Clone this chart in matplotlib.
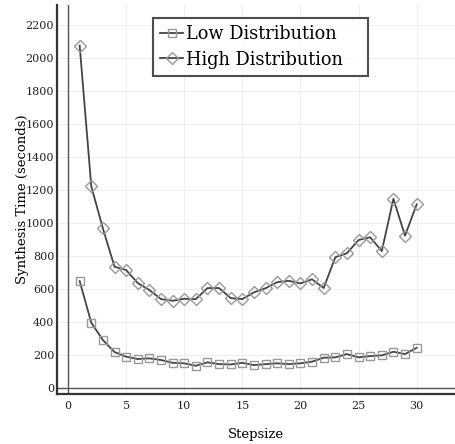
import matplotlib
matplotlib.use('Agg')
import matplotlib.pyplot as plt

stepsize = list(range(1, 31))
low_dist = [648, 396, 291, 218, 190, 176, 180, 170, 153, 150,
            135, 156, 145, 143, 153, 139, 145, 150, 145, 150,
            160, 184, 186, 206, 186, 194, 198, 220, 206, 244]
high_dist = [2075, 1222, 967, 735, 715, 636, 594, 539, 529, 541,
             539, 606, 606, 545, 539, 580, 605, 642, 650, 634,
             659, 606, 793, 817, 897, 914, 830, 1147, 923, 1113]

plt.rcParams['font.family'] = 'DejaVu Serif'

fig = plt.figure(figsize=(4.55, 4.44), dpi=100)
ax = fig.add_axes([0.1253, 0.1126, 0.8747, 0.8761])

ax.axhline(0, color='#555555', linewidth=1, zorder=1)
ax.axvline(0, color='#555555', linewidth=1, zorder=1)

ax.plot(stepsize, low_dist, color='#444444', linewidth=1.3,
        marker='s', markersize=6, markerfacecolor='none',
        markeredgecolor='#999999', markeredgewidth=1,
        label='Low Distribution', zorder=3)
ax.plot(stepsize, high_dist, color='#444444', linewidth=1.3,
        marker='D', markersize=6, markerfacecolor='none',
        markeredgecolor='#999999', markeredgewidth=1,
        label='High Distribution', zorder=3)

ax.set_xlim(-0.95, 33.3)
ax.set_ylim(-36, 2321)
ax.set_xticks(range(0, 31, 5))
ax.set_yticks(range(0, 2201, 200))
ax.tick_params(axis='y', length=0, labelsize=8, colors='#222222', pad=2)
ax.tick_params(axis='x', length=0, labelsize=8, colors='#222222', pad=5)
ax.grid(True, color='#eeeeee', linewidth=0.8)
ax.set_axisbelow(True)

for side in ['top', 'right']:
    ax.spines[side].set_visible(False)
for side in ['left', 'bottom']:
    ax.spines[side].set_linewidth(1.6)
    ax.spines[side].set_color('#333333')

ax.set_xlabel('Stepsize', fontsize=9.5, labelpad=12)
ax.set_ylabel('Synthesis Time (seconds)', fontsize=9.5, labelpad=-2)

# legend box stretched to the reference width
leg = ax.legend(loc='upper left', bbox_to_anchor=(0.241, 0.9666, 0.540, 0),
                mode='expand', fontsize=12.8, frameon=True, fancybox=False,
                handlelength=1.3, handletextpad=0.15, borderpad=0.4,
                labelspacing=0.42, borderaxespad=0)
leg.get_frame().set_edgecolor('#222222')
leg.get_frame().set_linewidth(1.5)

fig.savefig('out.png', dpi=100)
